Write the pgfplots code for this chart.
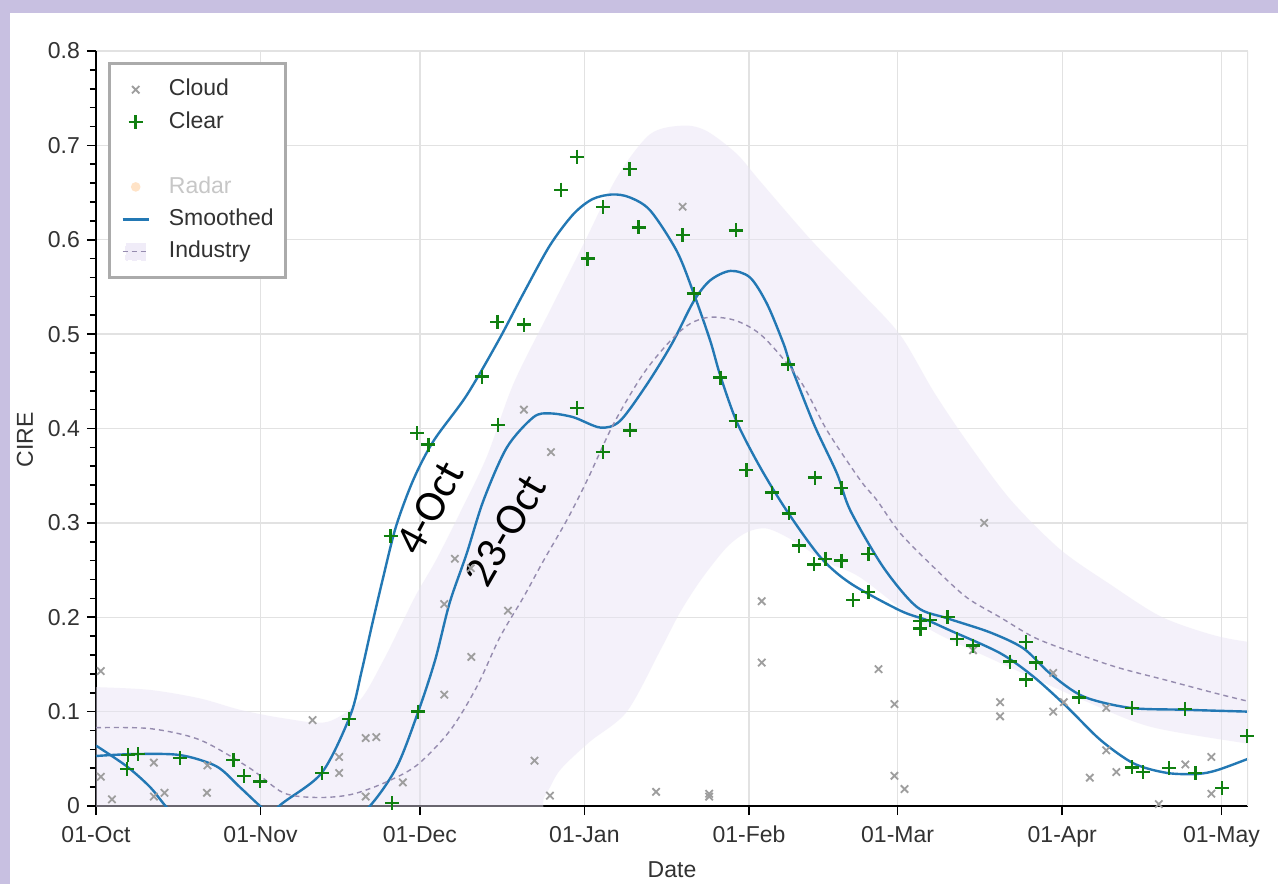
\documentclass[border=0pt]{standalone}
\usepackage{fontspec}
\setmainfont{Liberation Sans}
\newfontfamily\calibri{Carlito}
\usepackage{pgfplots}
\pgfplotsset{compat=1.18}
\definecolor{bgl}{RGB}{200,192,225}
\definecolor{cloudcol}{RGB}{158,158,158}
\definecolor{clearcol}{RGB}{16,128,16}
\definecolor{linecol}{RGB}{35,120,180}
\definecolor{indcol}{RGB}{150,140,175}
\definecolor{bandcol}{RGB}{232,226,244}
\definecolor{gridcol}{RGB}{226,226,226}
\definecolor{txt}{RGB}{50,50,50}
\pgfplotsset{
  marklegend/.style={legend image code/.code={\draw[mark repeat=2,mark phase=2,##1] plot coordinates {(0pt,0pt) (6.5pt,0pt) (13pt,0pt)};}},
  linelegend/.style={legend image code/.code={\draw[##1] (0pt,0pt) -- (13pt,0pt);}},
  bandlegend/.style={legend image code/.code={\fill[bandcol!65] (1.5pt,-4.25pt) rectangle (11.5pt,4.25pt); \draw[##1] (0pt,0pt) -- (13pt,0pt);}},
}
\begin{document}
\begin{tikzpicture}
\fill[bgl] (-48pt,-39pt) rectangle (591pt,403pt);
\fill[white] (-43pt,-39pt) rectangle (591pt,396.5pt);
\begin{axis}[
  width=576pt, height=377.5pt, scale only axis,
  xmin=0, xmax=217, ymin=0, ymax=0.8,
  axis x line*=bottom, axis y line*=left,
  axis line style={black, line width=0.8pt},
  tick align=outside,
  major tick length=4.5pt, minor tick length=3pt,
  every tick/.style={black, line width=0.8pt},
  xtick={0,31,61,92,123,151,182,212},
  xticklabels={01-Oct,01-Nov,01-Dec,01-Jan,01-Feb,01-Mar,01-Apr,01-May},
  ytick={0,0.1,0.2,0.3,0.4,0.5,0.6,0.7,0.8},
  minor y tick num=4,
  yticklabel style={/pgf/number format/fixed, /pgf/number format/precision=1},
  xticklabel style={yshift=-2pt},
  /pgf/number format/assume math mode=true,
  tick label style={font=\fontsize{11.5}{13.8}\selectfont, text=txt},
  grid=major, major grid style={gridcol, line width=0.7pt},
  xlabel={Date}, ylabel={CIRE},
  label style={font=\fontsize{11.5}{13.8}\selectfont, text=txt},
  xlabel style={at={(axis description cs:0.5,-0.0848)}, anchor=center},
  ylabel style={at={(axis description cs:-0.0616,0.485)}, anchor=center},
  legend cell align=left,
  legend style={at={(rel axis cs:0,1)}, anchor=north west, xshift=6pt, yshift=-5.5pt,
    draw=black!33, line width=1.5pt, fill=white, inner xsep=6pt, inner ysep=5pt,
    row sep=0pt, column sep=9.5pt, font=\fontsize{11.5}{13.8}\selectfont, text=txt,
    nodes={inner sep=0pt, text height=11.2pt, text depth=5pt}},
]
% industry band (upper edge, then lower edge reversed)
\addplot[draw=none, fill=bandcol, fill opacity=0.45, smooth, tension=0.5, forget plot] coordinates {
(-8,0.127)(0,0.126)(10.2,0.123)(19.6,0.114)(27.1,0.102)(35.3,0.093)(43.5,0.089)(49.7,0.112)(54.1,0.154)
(57.3,0.190)(60.4,0.225)(64,0.26)(68.5,0.31)(73.6,0.37)(78.6,0.447)(85.5,0.525)(91.8,0.595)
(98.1,0.666)(104.4,0.712)(110.7,0.721)(115.1,0.715)(120.7,0.691)(125.1,0.662)(134.5,0.601)(144,0.545)
(151.5,0.499)(157.8,0.439)(164.1,0.386)(172.2,0.325)(181.6,0.272)(191,0.235)(200.5,0.201)(209.9,0.182)(217,0.174)(226,0.170)
(226,0.058)(217,0.066)(198.6,0.084)(186,0.112)(169,0.155)(156.5,0.189)(144,0.242)
(137.7,0.258)(131.4,0.281)(126.4,0.294)(122.6,0.290)(118.8,0.274)(114,0.240)(110,0.205)(106.3,0.165)
(100,0.100)(93,0.068)(87.4,0.038)(84.5,0.01)(80,-0.02)(40,-0.05)(0,-0.05)(-8,-0.05)};
% Cloud
\addplot[only marks, mark=x, mark size=2.6pt, color=cloudcol, line width=0.9pt, marklegend]
coordinates {
(0.9,0.143)(0.9,0.031)(3.0,0.007)(10.9,0.046)(10.9,0.010)(12.9,0.014)(20.9,0.014)(21.0,0.043)
(40.8,0.091)(45.8,0.052)(45.8,0.035)(50.8,0.072)(52.8,0.073)(50.8,0.010)(57.8,0.025)(65.6,0.118)
(65.6,0.214)(67.6,0.262)(70.6,0.252)(70.7,0.158)(77.6,0.207)(80.6,0.420)(82.6,0.048)(85.5,0.011)
(85.7,0.375)(105.5,0.015)(110.5,0.635)(115.5,0.013)(115.5,0.010)(125.4,0.217)(125.4,0.152)
(147.4,0.145)(150.4,0.108)(150.4,0.032)(152.3,0.018)(165.2,0.165)(167.3,0.300)(170.3,0.110)
(170.3,0.095)(180.3,0.141)(180.3,0.100)(182.3,0.110)(187.2,0.030)(190.3,0.104)(190.3,0.059)
(192.2,0.036)(200.2,0.002)(205.2,0.044)(210.1,0.052)(210.1,0.013)};
\addlegendentry{Cloud}
% Clear
\addplot[only marks, mark=+, mark size=3.5pt, color=clearcol, line width=1.2pt, marklegend]
coordinates {
(5.8,0.039)(6.0,0.054)(7.9,0.055)(15.8,0.051)(25.9,0.049)(27.9,0.032)(30.9,0.026)(42.6,0.035)
(47.7,0.092)(55.5,0.286)(55.8,0.003)(60.5,0.395)(60.7,0.100)(62.6,0.383)(72.7,0.455)(75.6,0.513)
(75.7,0.404)(80.6,0.510)(87.6,0.653)(90.6,0.688)(90.6,0.422)(92.6,0.580)(95.5,0.635)(95.5,0.375)
(100.5,0.675)(100.6,0.398)(102.2,0.613)(110.5,0.605)(112.6,0.543)(117.6,0.454)(120.5,0.610)
(120.5,0.408)(122.5,0.356)(127.3,0.332)(130.4,0.468)(130.5,0.310)(132.4,0.276)(135.3,0.256)
(135.4,0.348)(137.4,0.262)(140.4,0.260)(140.4,0.337)(142.6,0.218)(145.5,0.267)(145.5,0.227)
(155.3,0.196)(155.3,0.188)(157.1,0.197)(160.4,0.200)(162.2,0.177)(165.2,0.170)(172.2,0.153)
(175.2,0.174)(175.2,0.134)(177.1,0.152)(185.2,0.115)(195.2,0.104)(195.2,0.041)(197.2,0.036)
(202.1,0.040)(205.1,0.103)(207.1,0.035)(212.1,0.019)(216.8,0.074)};
\addlegendentry{Clear}
\addlegendimage{empty legend}
\addlegendentry{}
\addlegendimage{only marks, mark=*, mark size=1.6pt, color=orange!22, marklegend}
\addlegendentry[text=black!22]{Radar}
% Smoothed 4-Oct
\addplot[smooth, color=linecol, line width=1.2pt, tension=0.5, linelegend]
coordinates {
(0,0.064)(5.8,0.042)(10.2,0.020)(13.1,0.0)(18,-0.03)(24,-0.045)(30,-0.03)(34.5,0)(42.5,0.035)
(47.9,0.096)(50,0.142)(52,0.192)(54,0.240)(56.5,0.296)(59.8,0.346)(63.6,0.387)(69.8,0.435)
(75.8,0.493)(80.5,0.543)(85.5,0.594)(89.9,0.627)(93.5,0.643)(97.2,0.648)(100.5,0.645)
(104.4,0.631)(109.4,0.588)(112.6,0.543)(115.7,0.493)(117.6,0.456)(120.7,0.407)(125.1,0.359)
(130.1,0.313)(136.4,0.264)(142.1,0.236)(151.5,0.207)(156.5,0.197)(160.9,0.186)(170.3,0.162)
(176.6,0.137)(182.9,0.105)(189.2,0.070)(195.5,0.045)(201.8,0.035)(207.5,0.034)(211.2,0.038)(217,0.050)};
\addlegendentry{Smoothed}
% Smoothed 23-Oct
\addplot[smooth, color=linecol, line width=1.2pt, tension=0.5, forget plot]
coordinates {
(0,0.053)(7.0,0.055)(15.8,0.054)(22.7,0.042)(27.1,0.020)(30.9,0.0)(37,-0.03)(44,-0.04)(51.6,0)
(56.7,0.042)(60.7,0.100)(63.9,0.155)(66.6,0.215)(69.8,0.267)(73.0,0.324)(77.4,0.380)(82.4,0.412)
(85.5,0.416)(89.9,0.412)(95.0,0.401)(98.7,0.408)(103.8,0.447)(108.5,0.490)(112.6,0.535)
(115.7,0.557)(119.5,0.567)(123.2,0.560)(126.4,0.532)(129.5,0.490)(130.8,0.468)(135.2,0.405)
(139.6,0.352)(142.1,0.313)(148.3,0.253)(154.6,0.211)(160.3,0.199)(168.4,0.184)(174.7,0.167)
(179.8,0.140)(186.0,0.116)(194.8,0.104)(204.9,0.102)(217,0.100)};
% Industry
\addplot[smooth, color=indcol, line width=0.7pt, dash pattern=on 2.5pt off 2pt, bandlegend]
coordinates {
(0,0.083)(10.2,0.082)(19.6,0.070)(29,0.040)(35.3,0.014)(41.6,0.009)(47.9,0.012)(54.1,0.024)
(60.4,0.043)(66.7,0.080)(71.7,0.126)(76.1,0.179)(80.5,0.221)(84.3,0.260)(88.7,0.303)(92.5,0.345)
(97.5,0.405)(103.1,0.458)(108.2,0.493)(111.9,0.511)(115.7,0.518)(120.7,0.514)(125.7,0.497)
(132.6,0.451)(137.7,0.398)(144,0.345)(147.1,0.324)(151.5,0.289)(157.8,0.253)(164,0.221)
(170.3,0.200)(176.6,0.179)(182.9,0.165)(192.3,0.147)(201.8,0.133)(211.2,0.119)(217,0.111)};
\addlegendentry{Industry}
\draw[gridcol, line width=0.7pt] (rel axis cs:1,0) -- (rel axis cs:1,1);
\node[rotate=62, font=\calibri\fontsize{22}{26}\selectfont] at (axis cs:62.9,0.316) {4-Oct};
\node[rotate=60, font=\calibri\fontsize{22}{26}\selectfont] at (axis cs:77.1,0.292) {23-Oct};
\end{axis}
\pgfresetboundingbox
\useasboundingbox (-48pt,-39pt) rectangle (591pt,403pt);
\end{tikzpicture}
\end{document}
